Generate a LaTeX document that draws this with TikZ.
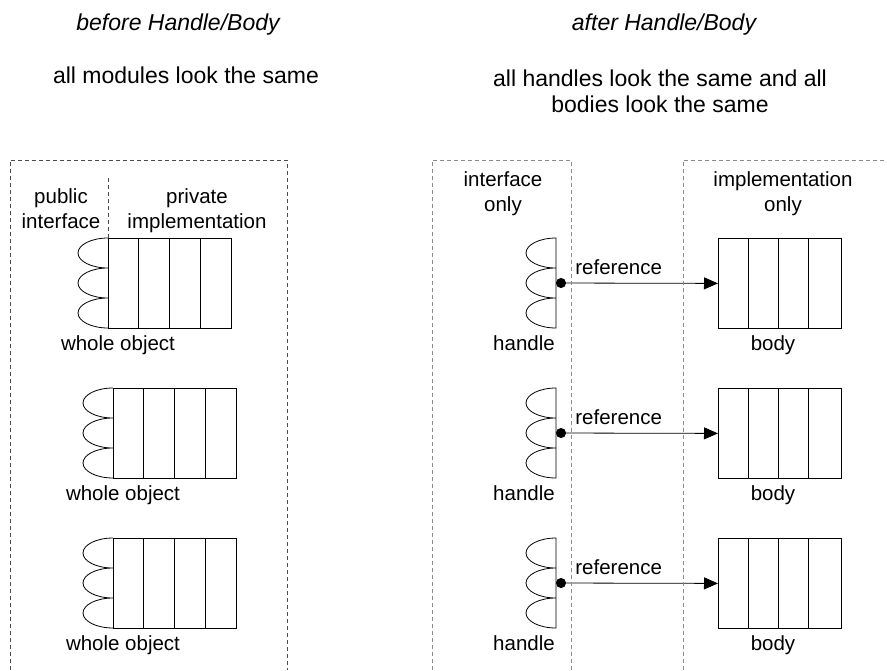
\documentclass[tikz,border=0pt]{standalone}
\usepackage{fontspec}
\setmainfont{Liberation Sans}
\usetikzlibrary{arrows.meta}

\begin{document}
\begin{tikzpicture}[x = 1pt, y = -1pt, line width = 0.8pt,
                        frame/.style = {dash pattern = on 4pt off 3pt, line width = 0.7pt, black!70},
                        lightframe/.style = {frame, black!45},
                        body/.style = {draw, minimum width = 123pt, minimum height = 90pt, inner sep = 0pt, anchor = north west},
                        bump/.style = {start angle = 270, end angle = 90, x radius = 30, y radius = 15},
                        txt/.style = {font = \fontsize{20.5}{24.5}\selectfont, align = center, anchor = base, inner sep = 0pt},
                        heading/.style = {font = \fontsize{23}{26}\selectfont, align = center, anchor = base, inner sep = 0pt},
                        ref/.style = {{Circle[length = 10pt]}-{Triangle[length = 14pt, width = 12pt]}}]
      \useasboundingbox (0, 0) rectangle (887, 670);

      % headings
      \node [heading, font = \fontsize{23}{26}\selectfont\itshape] (before) at (178, 30){before Handle/Body};
      \node [heading] (same) at (186, 83){all modules look the same};
      \node [heading, font = \fontsize{23}{26}\selectfont\itshape] (after) at (664, 30){after Handle/Body};
      \node [heading] (alike) at (660, 112){all handles look the same and all\\bodies look the same};

      % before: whole objects
      \foreach \r/\mx/\y in {1/108/238, 2/113/388, 3/113/538} {
        \node [body] (m\r) at (\mx, \y){};
        \foreach \k in {1, 2, 3}
          \draw (m\r.north west) ++(\k * 30.75, 0) -- ++(0, 90);
        \draw (m\r.north west) arc [bump] arc [bump] arc [bump];
        \node [txt] (w\r) at (\mx + 10, \y + 112){whole object};
      }
      \node [txt] (pub) at (61, 228){public\\interface};
      \node [txt] (priv) at (197, 228){private\\implementation};
      \draw [frame] (10, 670) -- (10, 160) -- (287, 160) -- (287, 670);
      \draw [frame] (108, 178) -- (m1.north west);

      % after: handles and bodies
      \foreach \r/\y in {1/238, 2/388, 3/538} {
        \coordinate (h\r) at (556, \y);
        \coordinate (c\r) at (556, \y + 45);
        \draw (h\r) arc [bump] arc [bump] arc [bump] -- cycle;
        \node [body] (b\r) at (718, \y){};
        \foreach \k in {1, 2, 3}
          \draw (b\r.north west) ++(\k * 30.25, 0) -- ++(0, 90);
        \draw [ref] (c\r) -- (b\r.west);
        \node [txt, anchor = base west] (r\r) at (575, \y + 36){reference};
        \node [txt] (hl\r) at (524, \y + 112){handle};
        \node [txt] (bl\r) at (773, \y + 112){body};
      }
      \node [txt] (ifc) at (503, 211){interface\\only};
      \node [txt] (imp) at (783, 211){implementation\\only};
      \draw [lightframe] (432, 670) -- (432, 160) -- (571, 160) -- (571, 670);
      \draw [lightframe] (683, 670) -- (683, 160) -- (887, 160);
    \end{tikzpicture}
\end{document}
